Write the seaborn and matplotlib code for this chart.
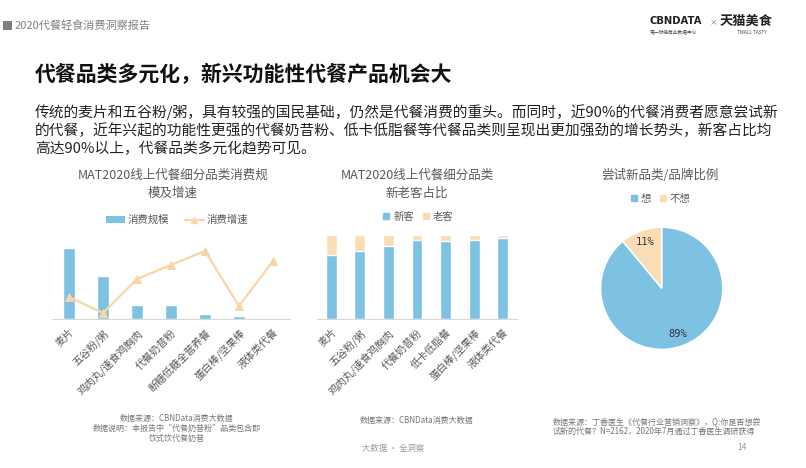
import matplotlib
matplotlib.use('Agg')
import matplotlib.pyplot as plt
import seaborn as sns
import numpy as np
from matplotlib.patches import Rectangle
from matplotlib.lines import Line2D

sns.set_theme(style='white')
plt.rcParams['font.family'] = ['Noto Sans CJK SC', 'DejaVu Sans']

# ---------------- data ----------------
cats1 = ['麦片', '五谷粉/粥', '鸡肉丸/速食鸡胸肉', '代餐奶昔粉', '断糖低糖全营养餐', '蛋白棒/坚果棒', '液体类代餐']
scale1 = [71, 43, 14, 14, 5, 3, 0]
growth1 = [22, 6, 40, 54, 68, 13, 58]

cats2 = ['麦片', '五谷粉/粥', '鸡肉丸/速食鸡胸肉', '代餐奶昔粉', '低卡低脂餐', '蛋白棒/坚果棒', '液体类代餐']
new2 = [76, 81, 87, 94.5, 93, 94.5, 97]
old2 = [round(100 - v, 1) for v in new2]

pie_labels = ['想', '不想']
pie_vals = [89, 11]

BLUE = '#7DC2E2'
BEIGE = '#FADDB4'
LINEC = '#F8D6A8'
GRAY = '#595959'
W, H = 806, 468

fig = plt.figure(figsize=(8.06, 4.68), dpi=100)
fig.patch.set_facecolor('white')


def box(x0, y0, x1, y1):
    return [x0 / W, 1 - y1 / H, (x1 - x0) / W, (y1 - y0) / H]


def ftext(x, y, s, **kw):
    return fig.text(x / W, 1 - y / H, s, **kw)


# ---------------- header ----------------
fig.patches.append(Rectangle((3 / W, 1 - 30 / H), 9 / W, 9 / H, transform=fig.transFigure,
                             facecolor='#7f7f7f', edgecolor='none'))
ftext(15, 26, '2020代餐轻食消费洞察报告', fontsize=8, color='#808080', va='center', ha='left')
ftext(650, 21, 'CBNDATA', fontsize=7.2, fontweight='bold', color='#222222', va='center', ha='left',
      family=['DejaVu Sans'])
ftext(713, 22, '×', fontsize=5.5, color='#666666', va='center', ha='center')
ftext(746, 21, '天猫美食', fontsize=9.5, fontweight='bold', color='#222222', va='center', ha='center')
ftext(650, 33, '第一财经商业数据中心', fontsize=3.4, color='#444444', va='center', ha='left')
ftext(752, 33, 'TMALL TASTY', fontsize=3.4, color='#444444', va='center', ha='center')

# ---------------- title and body ----------------
ftext(35, 75, '代餐品类多元化，新兴功能性代餐产品机会大', fontsize=15, fontweight='bold',
      color='#111111', va='center', ha='left')
body = ['传统的麦片和五谷粉/粥，具有较强的国民基础，仍然是代餐消费的重头。而同时，近90%的代餐消费者愿意尝试新',
        '的代餐，近年兴起的功能性更强的代餐奶昔粉、低卡低脂餐等代餐品类则呈现出更加强劲的增长势头，新客占比均',
        '高达90%以上，代餐品类多元化趋势可见。']
for i, line in enumerate(body):
    ftext(35, 112 + i * 18.3, line, fontsize=10.6, color='#222222', va='center', ha='left')


def style_cat_axis(ax, labels):
    ax.set_xticks(range(len(labels)))
    ax.set_xticklabels(labels, rotation=45, ha='right', va='top', rotation_mode='anchor',
                       fontsize=7.5, color=GRAY)
    ax.tick_params(axis='x', length=0, pad=6)
    ax.set_yticks([])
    ax.set_xlabel('')
    ax.set_ylabel('')
    for s in ['top', 'right', 'left']:
        ax.spines[s].set_visible(False)
    ax.spines['bottom'].set_color('#d9d9d9')
    ax.spines['bottom'].set_linewidth(0.8)
    ax.set_facecolor('none')
    ax.set_xlim(-0.5, len(labels) - 0.5)


# ---------------- chart 1 ----------------
ax1 = fig.add_axes(box(52, 229, 290, 319))
sns.barplot(x=cats1, y=scale1, color=BLUE, saturation=1, width=0.33, ax=ax1)
sns.lineplot(x=np.arange(len(cats1)), y=growth1, color=LINEC, linewidth=1.6, marker='^',
             markersize=6, markeredgecolor=LINEC, ax=ax1)
ax1.set_ylim(0, 90)
style_cat_axis(ax1, cats1)

ftext(173, 175, 'MAT2020线上代餐细分品类消费规', fontsize=9, color=GRAY, ha='center', va='center')
ftext(173, 193, '模及增速', fontsize=9, color=GRAY, ha='center', va='center')
h1 = [Rectangle((0, 0), 1, 0.6, facecolor=BLUE, edgecolor='none'),
      Line2D([], [], color=LINEC, linewidth=1.6, marker='^', markersize=5)]
fig.legend(h1, ['消费规模', '消费增速'], loc='center', bbox_to_anchor=(177 / W, 1 - 220 / H),
           ncol=2, frameon=False, fontsize=7.5, labelcolor=GRAY, handlelength=1.8,
           handletextpad=0.3, columnspacing=1.5)

ftext(177, 418, '数据来源：CBNData消费大数据', fontsize=5.8, color='#777777', ha='center', va='center')
ftext(177, 428, '数据说明：本报告中“代餐奶昔粉”品类包含即', fontsize=5.8, color='#777777',
      ha='center', va='center')
ftext(177, 438, '饮式饮代餐奶昔', fontsize=5.8, color='#777777', ha='center', va='center')

# ---------------- chart 2 ----------------
ax2 = fig.add_axes(box(317, 235, 517, 319))
totals2 = [n + o for n, o in zip(new2, old2)]
sns.barplot(x=cats2, y=totals2, color=BEIGE, saturation=1, width=0.38, ax=ax2)
sns.barplot(x=cats2, y=new2, color=BLUE, saturation=1, width=0.38, ax=ax2)
ax2.set_ylim(0, 100)
style_cat_axis(ax2, cats2)

ftext(417, 175, 'MAT2020线上代餐细分品类', fontsize=9, color=GRAY, ha='center', va='center')
ftext(417, 193, '新老客占比', fontsize=9, color=GRAY, ha='center', va='center')
h2 = [Line2D([], [], linestyle='none', marker='s', markersize=5, color=BLUE),
      Line2D([], [], linestyle='none', marker='s', markersize=5, color=BEIGE)]
fig.legend(h2, ['新客', '老客'], loc='center', bbox_to_anchor=(418 / W, 1 - 217 / H),
           ncol=2, frameon=False, fontsize=7.5, labelcolor=GRAY, handlelength=0.7,
           handletextpad=0.3, columnspacing=0.8)
ftext(417, 420, '数据来源：CBNData消费大数据', fontsize=5.8, color='#777777', ha='center', va='center')

# ---------------- chart 3 (pie) ----------------
ax3 = fig.add_axes(box(600.7, 227.3, 722.7, 349.3))
wedges, texts, autotexts = ax3.pie(pie_vals, colors=[BLUE, BEIGE], startangle=90, counterclock=False,
                                   autopct='%d%%', pctdistance=0.8,
                                   wedgeprops=dict(edgecolor='white', linewidth=1.0),
                                   textprops=dict(fontsize=7.5, color='#333344',
                                                  family=['DejaVu Sans Mono']))
ax3.set_xlim(-1, 1)
ax3.set_ylim(-1, 1)
ax3.set_aspect('equal')
ax3.axis('off')

ftext(660, 175, '尝试新品类/品牌比例', fontsize=9, color=GRAY, ha='center', va='center')
h3 = [Line2D([], [], linestyle='none', marker='s', markersize=4, color=BLUE),
      Line2D([], [], linestyle='none', marker='s', markersize=4, color=BEIGE)]
fig.legend(h3, pie_labels, loc='center', bbox_to_anchor=(660 / W, 1 - 199 / H),
           ncol=2, frameon=False, fontsize=7.5, labelcolor=GRAY, handlelength=0.7,
           handletextpad=0.3, columnspacing=0.8)

ftext(553, 421.5, '数据来源：丁香医生《代餐行业营销洞察》，Q:你是否想尝', fontsize=5.8,
      color='#777777', ha='left', va='center')
ftext(553, 431, '试新的代餐？N=2162，2020年7月通过丁香医生调研获得', fontsize=5.8,
      color='#777777', ha='left', va='center')

# ---------------- footer ----------------
ftext(393, 449, '大数据 · 全洞察', fontsize=6, color='#999999', ha='center', va='center')
ftext(742, 448, '14', fontsize=6, color='#999999', ha='center', va='center')

fig.savefig('out.png', dpi=100, facecolor='white')
